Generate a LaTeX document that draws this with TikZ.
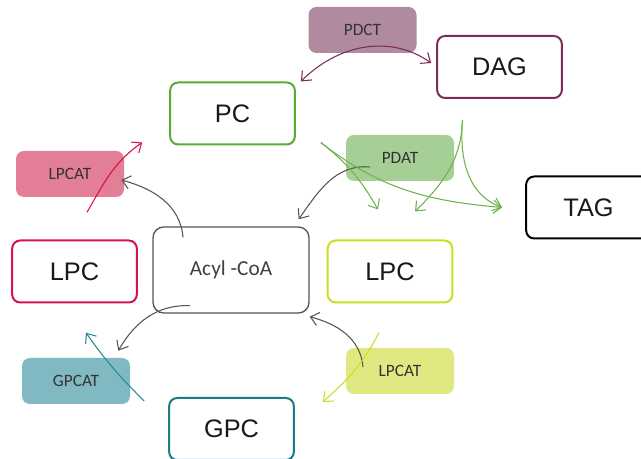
\documentclass[tikz,border=0pt]{standalone}
\usepackage{fontspec}
\setmainfont{Carlito}
\newfontfamily\arialfont{Liberation Sans}
\usetikzlibrary{arrows.meta}

\definecolor{pdctfill}{HTML}{B08A9E}
\definecolor{dagline}{HTML}{7B2C5A}
\definecolor{pcline}{HTML}{5BAA32}
\definecolor{lpcatpink}{HTML}{E27E96}
\definecolor{lpcred}{HTML}{D5124A}
\definecolor{pdatfill}{HTML}{A6CF96}
\definecolor{pdatarrow}{HTML}{6DB34F}
\definecolor{lpcyellow}{HTML}{CCDD22}
\definecolor{lpcatyellow}{HTML}{E0E882}
\definecolor{gpcatfill}{HTML}{80B9C1}
\definecolor{gpcline}{HTML}{1A7C87}
\definecolor{gpcarrow}{HTML}{2A8A93}
\definecolor{acylgray}{HTML}{555555}

\begin{document}
\begin{tikzpicture}[x=0.75pt,y=0.75pt,
  lipid/.style={draw, line width=1.5pt, rounded corners=6pt, fill=white,
    minimum width=93.5pt, minimum height=46.5pt,
    font=\arialfont\fontsize{19}{22}\selectfont, text=black!90},
  enzyme/.style={rounded corners=6pt, minimum width=81pt, minimum height=34.5pt,
    font=\fontsize{13}{15}\selectfont, text=black!80},
  >={Straight Barb[length=6pt,width=10pt]},
  flux/.style={line width=0.8pt, ->}]
  \clip (0,0) rectangle (641,459);

  % Enzymes
  \node[enzyme, fill=pdctfill] (pdct) at (362.5,429) {PDCT};
  \node[enzyme, fill=lpcatpink] (lpcat1) at (70,285) {LPCAT};
  \node[enzyme, fill=pdatfill] (pdat) at (400,301) {PDAT};
  \node[enzyme, fill=gpcatfill] (gpcat) at (76,78) {GPCAT};
  \node[enzyme, fill=lpcatyellow] (lpcat2) at (400,88) {LPCAT};

  % Lipids
  \node[lipid, draw=dagline] (dag) at (499.5,392) {DAG};
  \node[lipid, draw=pcline] (pc) at (232.5,345.5) {PC};
  \node[lipid, draw=black] (tag) at (588.5,251.5) {TAG};
  \node[lipid, draw=lpcred] (lpc1) at (74.5,187.5) {LPC};
  \node[lipid, draw=lpcyellow] (lpc2) at (390,187.5) {LPC};
  \node[lipid, draw=gpcline] (gpc) at (231.5,30) {GPC};

  % Acyl pool
  \node[draw=acylgray, line width=1pt, rounded corners=8pt, minimum width=117pt,
    minimum height=64.5pt, font=\fontsize{16}{19}\selectfont, text=black!75]
    (acyl) at (231,189) {Acyl -CoA};

  % PDCT
  \draw[flux, <->, dagline] ([shift={(5,0)}]pc.north east) to[out=45,in=145] ([shift={(-5,4)}]dag.west);

  % LPCAT on LPC
  \draw[flux, lpcred] ([shift={(17,-15)}]lpcat1.south) to[out=60,in=-145] ([shift={(-27,3)}]pc.south west);
  \draw[flux, acylgray] ([shift={(-48,-11)}]acyl.north) to[out=95,in=-15] ([shift={(-3,-6)}]lpcat1.east);

  % PDAT
  \draw[flux, acylgray] ([shift={(-30,-9)}]pdat.center) to[out=175,in=55] ([shift={(-11,7)}]acyl.north east);
  \draw[flux, pdatarrow] ([shift={(25,3)}]pc.south east) to[out=-38,in=120] ([shift={(-12,30)}]lpc2.north);
  \draw[flux, pdatarrow] ([shift={(25,3)}]pc.south east) to[out=-38,in=175] ([shift={(-23,0)}]tag.west);
  \draw[flux, pdatarrow] ([shift={(-37,-21)}]dag.south) to[out=-92,in=45] ([shift={(25,28)}]lpc2.north);
  \draw[flux, pdatarrow] ([shift={(-37,-21)}]dag.south) to[out=-95,in=160] ([shift={(-23,0)}]tag.west);

  % GPCAT
  \draw[flux, acylgray] ([shift={(-41,8)}]acyl.south) to[out=178,in=60] ([shift={(-12,7)}]gpcat.north east);
  \draw[flux, gpcarrow] ([shift={(-24,-4)}]gpc.north west) to[out=135,in=-55] ([shift={(10,25)}]gpcat.north);

  % LPCAT on GPC
  \draw[flux, acylgray] ([shift={(-37,4)}]lpcat2.center) to[out=95,in=-15] ([shift={(0,-3)}]acyl.south east);
  \draw[flux, lpcyellow] ([shift={(-11,-29)}]lpc2.south) to[out=-117,in=42] ([shift={(28,-5)}]gpc.north east);
\end{tikzpicture}
\end{document}
